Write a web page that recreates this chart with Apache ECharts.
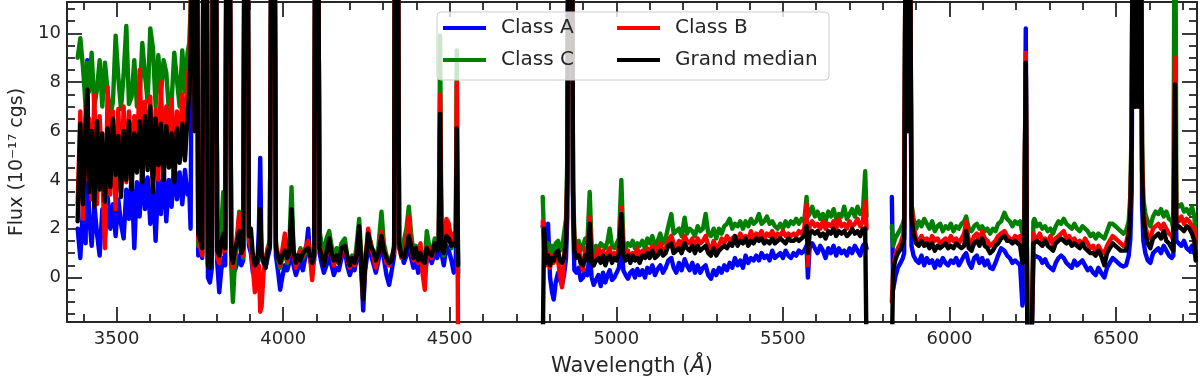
<!DOCTYPE html>
<html>
<head>
<meta charset="utf-8">
<title>Spectra</title>
<script src="https://cdn.jsdelivr.net/npm/echarts@6.0.0/dist/echarts.min.js"></script>
<style>
  html, body { margin: 0; padding: 0; background: #ffffff; }
  #chart { width: 1200px; height: 382px; }
</style>
</head>
<body>
<div id="chart"></div>
<script>
// tick positions
const xMajorTicks = [3500, 4000, 4500, 5000, 5500, 6000, 6500];
const xMinorTicks = [3400, 3600, 3700, 3800, 3900, 4100, 4200, 4300, 4400, 4600, 4700, 4800, 4900,
  5100, 5200, 5300, 5400, 5600, 5700, 5800, 5900, 6100, 6200, 6300, 6400, 6600, 6700];
const yMajorTicks = [0, 2, 4, 6, 8, 10];
const yMinorTicks = [-1.5, -1, -0.5, 0.5, 1, 1.5, 2.5, 3, 3.5, 4.5, 5, 5.5, 6.5, 7, 7.5,
  8.5, 9, 9.5, 10.5, 11];

const seriesNames = ['Class A', 'Class C', 'Class B', 'Grand median'];
const seriesColors = ['#0000ff', '#008000', '#ff0000', '#000000'];

// ---- blue end, 3383-3713 A ----
const wave1 = [3383, 3391, 3399, 3407, 3412, 3417, 3425, 3433, 3441, 3449,
  3457, 3465, 3473, 3481, 3489, 3497, 3505, 3513, 3521, 3529,
  3537, 3545, 3553, 3561, 3569, 3577, 3585, 3593, 3601, 3609,
  3617, 3625, 3633, 3641, 3649, 3657, 3665, 3673, 3681, 3689,
  3697, 3705, 3713];
const classA1 = [2.0, 0.8, 2.9, 1.4, 8.9, 2.6, 1.3, 3.0, 1.8, 0.9,
  2.8, 1.6, 3.3, 2.0, 3.0, 1.7, 3.2, 2.2, 1.6, 3.6,
  2.4, 4.2, 1.2, 3.9, 2.5, 4.5, 2.8, 4.1, 2.2, 3.8,
  1.5, 4.0, 2.6, 4.6, 2.3, 4.0, 2.9, 4.8, 3.2, 4.3,
  3.0, 4.4, 3.4];
const classB1 = [3.0, 6.8, 2.4, 7.0, 4.0, 6.5, 3.2, 7.5, 3.0, 6.6,
  4.2, 1.2, 7.8, 3.4, 6.8, 2.8, 6.9, 3.5, 7.0, 3.9,
  6.8, 4.5, 6.6, 4.4, 8.5, 5.0, 7.2, 4.6, 7.4, 3.8,
  6.9, 4.0, 8.0, 4.3, 7.0, 4.6, 7.3, 4.4, 6.8, 4.9,
  7.5, 5.0, 8.3];
const classC1 = [9.0, 9.8, 8.6, 7.0, 8.8, 7.6, 9.2, 7.0, 7.7, 8.9,
  7.0, 8.8, 7.6, 6.6, 7.2, 9.9, 8.2, 6.9, 8.3, 10.3,
  7.1, 7.4, 8.9, 7.0, 7.3, 9.6, 8.3, 7.2, 10.2, 9.4,
  7.0, 9.1, 7.5, 8.9, 8.4, 6.8, 7.2, 9.2, 8.1, 7.0,
  9.3, 7.6, 9.2];
const median1 = [2.3, 6.3, 3.0, 6.2, 7.7, 3.5, 6.0, 2.9, 6.4, 3.6,
  5.9, 3.1, 6.1, 3.7, 6.5, 4.2, 5.8, 3.3, 6.0, 4.0,
  6.4, 3.6, 5.9, 4.3, 6.4, 3.9, 6.6, 4.4, 7.0, 3.5,
  6.5, 4.6, 6.3, 4.0, 6.2, 4.5, 5.9, 3.9, 6.1, 4.7,
  6.3, 4.8, 6.6];

// ---- 3718-4525 A, Balmer series ----
const wave2 = [3718, 3722, 3729, 3734, 3740, 3745, 3752, 3757, 3762, 3769, 3774,
  3780, 3786, 3790, 3797, 3802, 3808, 3814, 3820, 3826, 3831,
  3838, 3844, 3849, 3855, 3862, 3868, 3874, 3880, 3885, 3892,
  3897, 3903, 3909, 3915, 3921, 3927, 3931, 3935, 3941, 3947,
  3953, 3960, 3966, 3973, 3978, 3985, 3991, 3997, 4005, 4012,
  4018, 4025, 4031, 4038, 4045, 4052, 4059, 4066, 4075, 4081,
  4087, 4093, 4097, 4104, 4109, 4115, 4122, 4130, 4138, 4145,
  4152, 4160, 4167, 4175, 4185, 4192, 4200, 4207, 4214, 4221,
  4228, 4234, 4240, 4246, 4255, 4262, 4270, 4278, 4286, 4295,
  4302, 4310, 4318, 4326, 4333, 4336, 4343, 4348, 4355, 4362,
  4370, 4377, 4384, 4391, 4398, 4405, 4412, 4418, 4425, 4431,
  4438, 4446, 4455, 4462, 4467, 4471, 4475, 4482, 4490, 4497,
  4505, 4512, 4518, 4521, 4525];
const classA2 = [3.6, 2.0, 20, 6, 20, 0.9, 1.9, 0.8, 20, 20, 0.0,
  -0.2, 0.4, 20, 20, 0.6, -0.6, 0.3, 0.8, 0.5, 20,
  20, 0.6, 0.2, 0.3, 0.6, 0.9, 0.5, 0.7, 20, 20,
  1.3, 1.0, 0.2, 0.3, 0.1, 2.0, 4.9, 0.8, 0.6, 0.4,
  0.8, 1.2, 20, 20, 0.9, 0.2, -0.5, 0.0, 0.5, 0.3,
  0.6, 1.1, 0.5, 0.1, 0.4, 0.6, 0.3, 0.8, 2.0, 0.7,
  0.4, 0.7, 20, 20, 1.0, 0.6, 0.2, 0.5, 0.9, 0.5,
  0.1, 0.4, 0.3, 0.8, 1.2, 0.5, 0.1, 0.4, 0.3, 0.8,
  1.2, 0.4, -1.35, 0.3, 1.2, 1.0, 0.6, 0.2, 0.7, 1.5,
  0.8, 0.1, -0.3, 0.3, 0.9, 20, 20, 1.2, 1.1, 0.6,
  0.9, 1.3, 0.8, 0.4, 0.8, 0.2, 0.6, 0.3, 0.2, 0.7,
  0.9, 0.6, 1.0, 0.8, 1.0, 6.0, 1.0, 0.5, 1.3, 1.1,
  0.7, 0.2, 0.6, 5.2, 0.2];
const classB2 = [8.6, 10.0, 20, 6, 20, 1.6, 1.2, 0.9, 20, 20, 0.6,
  0.7, 1.0, 20, 20, 0.8, 0.6, 1.2, 1.6, 1.1, 20,
  20, 0.8, 0.4, 1.0, 1.8, 2.6, 1.2, 0.9, 20, 20,
  1.6, 1.2, 0.4, -0.6, 0.0, 0.5, -1.4, -1.2, 0.2, 0.7,
  1.2, 1.4, 20, 20, 1.3, 0.9, 0.5, 1.1, 1.8, 0.7,
  1.0, 2.2, 1.0, 0.4, 0.8, 1.1, 0.9, 1.2, 1.5, 0.8,
  -0.1, 0.9, 20, 20, 1.3, 1.0, 0.6, 0.9, 1.4, 1.1,
  0.5, 0.8, 0.6, 1.0, 1.3, 0.8, 0.4, 0.7, 0.5, 1.1,
  1.6, 0.5, -0.9, 0.6, 2.0, 1.4, 0.9, 0.4, 1.0, 1.9,
  1.2, 0.6, 0.5, 0.9, 1.0, 20, 20, 1.3, 0.8, 0.9,
  1.6, 2.5, 1.2, 0.7, 1.1, 0.6, 1.4, 0.2, -0.5, 1.0,
  1.2, 0.8, 1.4, 1.2, 1.4, 7.5, 1.3, 1.5, 2.4, 2.2,
  1.5, 1.8, 1.6, 8.0, -3.0];
const classC2 = [9.6, 11.0, 20, 6, 20, 1.3, 1.5, 1.0, 20, 20, 0.8,
  0.9, 1.2, 20, 20, 1.0, 1.5, 2.0, 3.5, 1.6, 20,
  20, 0.5, -1.0, 0.6, 1.4, 2.7, 1.3, 0.8, 20, 20,
  1.5, 1.4, 0.5, 0.8, 0.2, 1.0, 2.2, 0.8, 0.9, 0.6,
  1.1, 1.6, 20, 20, 1.5, 0.7, 0.4, 0.8, 1.0, 0.6,
  1.2, 3.7, 1.1, 0.6, 0.9, 1.2, 0.8, 1.0, 1.3, 0.9,
  0.7, 1.0, 20, 20, 1.9, 1.4, 1.0, 1.6, 1.9, 1.3,
  0.8, 1.2, 0.9, 1.4, 1.6, 0.9, 0.5, 0.9, 0.6, 1.4,
  2.4, 1.0, -0.6, 0.8, 1.6, 1.5, 1.0, 0.7, 1.3, 2.7,
  1.4, 0.9, 0.7, 0.8, 1.2, 20, 20, 1.2, 0.9, 1.5,
  2.0, 2.9, 1.8, 1.0, 1.3, 0.8, 1.2, 0.9, 0.6, 1.9,
  1.3, 1.0, 1.6, 1.3, 1.6, 9.9, 1.4, 0.9, 1.8, 2.0,
  1.2, 1.5, 1.4, 9.3, 0.0];
const median2 = [7.6, 9.0, 20, 6, 20, 1.8, 1.5, 1.2, 20, 20, 0.5,
  0.4, 0.9, 20, 20, 1.1, 0.9, 1.4, 1.8, 1.2, 20,
  20, 1.0, 0.6, 1.1, 1.5, 1.9, 1.0, 1.2, 20, 20,
  1.7, 2.0, 0.9, 0.5, 0.6, 1.3, 2.8, 0.9, 0.7, 0.4,
  1.0, 1.3, 20, 20, 1.2, 0.8, 0.6, 0.9, 1.1, 0.8,
  1.0, 2.8, 1.1, 0.6, 0.9, 0.7, 1.0, 1.1, 1.2, 0.9,
  0.6, 0.9, 20, 20, 1.2, 0.9, 0.5, 1.0, 1.6, 1.0,
  0.7, 0.9, 0.6, 1.2, 1.3, 0.9, 0.5, 0.8, 0.6, 1.0,
  2.1, 0.6, -0.9, 0.5, 1.8, 1.3, 1.1, 0.7, 1.0, 1.7,
  1.1, 0.8, 0.6, 0.7, 1.3, 20, 20, 1.4, 0.9, 0.8,
  1.2, 1.7, 1.3, 0.8, 1.2, 0.7, 1.0, 0.7, 0.6, 1.2,
  1.0, 0.9, 1.4, 1.1, 1.3, 6.7, 1.2, 1.0, 1.7, 1.6,
  1.3, 1.4, 1.3, 6.1, 0.5];

// ---- 4779-5751 A ----
const wave3 = [4779, 4783, 4789, 4795, 4801, 4807, 4812, 4818, 4825, 4831,
  4837, 4843, 4849, 4853, 4857, 4866, 4870, 4874, 4880, 4887,
  4893, 4900, 4907, 4913, 4920, 4926, 4932, 4939, 4946, 4953,
  4960, 4967, 4974, 4980, 4987, 4994, 5001, 5008, 5015, 5021,
  5028, 5035, 5042, 5049, 5056, 5063, 5070, 5078, 5086, 5093,
  5100, 5108, 5116, 5124, 5132, 5140, 5148, 5156, 5165, 5172,
  5180, 5188, 5196, 5205, 5212, 5220, 5228, 5236, 5244, 5252,
  5260, 5268, 5276, 5284, 5292, 5300, 5308, 5316, 5324, 5332,
  5340, 5348, 5356, 5364, 5372, 5380, 5388, 5396, 5404, 5412,
  5420, 5428, 5436, 5444, 5452, 5460, 5468, 5476, 5484, 5492,
  5500, 5508, 5516, 5524, 5532, 5540, 5548, 5556, 5564, 5571,
  5575, 5580, 5588, 5596, 5604, 5612, 5620, 5628, 5636, 5644,
  5652, 5660, 5668, 5676, 5684, 5692, 5700, 5708, 5716, 5724,
  5732, 5740, 5747, 5751];
const classA3 = [2.1, 2.2, 1.5, 2.2, 0.0, -0.6, -0.9, -0.2, 0.2, -0.1,
  -0.3, 0.1, 0.8, 2.5, 20, 20, 2.5, 0.3, 0.2, 0.4,
  -0.1, 0.0, 0.3, 0.1, 1.0, 0.0, -0.3, -0.1, 0.1, -0.35,
  0.2, -0.2, 0.1, 0.3, -0.1, 0.0, 0.2, 0.4, 1.5, 0.3,
  0.1, -0.05, 0.2, 0.3, 0.0, 0.35, 0.1, 0.3, 0.0, 0.4,
  0.2, 0.5, 0.1, 0.35, 0.5, 0.2, 0.4, 0.7, 0.8, 0.4,
  0.2, 0.6, 0.3, 0.75, 0.5, 0.3, 0.6, 0.2, 0.5, 0.2,
  0.4, 0.5, 0.1, -0.05, 0.3, 0.1, 0.4, 0.2, 0.5, 0.3,
  0.6, 0.4, 0.8, 0.5, 0.7, 0.4, 0.9, 0.6, 0.8, 0.7,
  0.9, 0.7, 1.0, 0.8, 0.9, 0.7, 1.1, 0.8, 0.9, 1.0,
  0.8, 1.1, 0.9, 0.8, 1.0, 0.9, 1.1, 1.0, 1.1, 1.3,
  0.0, 1.2, 1.4, 1.2, 1.0, 1.3, 1.1, 0.8, 1.2, 1.0,
  1.3, 0.9, 1.2, 1.0, 1.1, 0.9, 1.2, 1.0, 1.3, 1.1,
  0.9, 1.3, 1.4, 1.2];
const classB3 = [2.3, 1.2, 0.5, 1.0, 0.4, 0.9, 0.6, 1.0, 0.7, 0.1,
  -0.4, 0.8, 1.6, 4.5, 20, 20, 3.5, 1.4, 0.9, 1.3,
  0.6, 0.3, 1.2, 0.8, 2.45, 0.9, 0.5, 0.9, 1.2, 0.8,
  1.1, 0.6, 1.0, 1.2, 0.7, 1.0, 0.8, 1.3, 2.85, 1.0,
  0.8, 1.1, 0.7, 1.0, 0.9, 1.2, 0.8, 1.1, 0.9, 1.2,
  1.0, 1.3, 0.9, 1.2, 1.4, 1.0, 1.2, 1.5, 1.7, 1.4,
  1.2, 1.5, 1.3, 1.7, 1.5, 1.4, 1.6, 1.2, 1.6, 1.4,
  1.5, 1.7, 1.3, 1.1, 1.5, 1.2, 1.3, 1.6, 1.4, 1.7,
  1.5, 1.6, 1.7, 1.5, 1.8, 1.6, 1.7, 1.5, 1.9, 1.6,
  1.8, 1.7, 1.9, 1.6, 1.8, 1.7, 1.9, 1.6, 1.8, 1.7,
  1.9, 1.7, 1.8, 1.7, 1.8, 1.7, 1.9, 1.8, 2.0, 3.0,
  0.5, 2.1, 2.3, 2.1, 2.2, 2.0, 2.3, 2.0, 2.2, 2.1,
  2.3, 2.0, 2.4, 2.1, 2.2, 2.0, 2.3, 2.1, 2.2, 2.4,
  2.1, 2.3, 3.1, 2.0];
const classC3 = [3.3, 1.6, 1.2, 1.4, 1.0, 1.3, 1.0, 1.4, 1.5, 1.1,
  1.2, 1.8, 2.4, 5.0, 20, 20, 4.0, 1.7, 1.2, 1.5,
  1.1, 1.3, 1.6, 1.4, 3.5, 1.2, 1.0, 1.3, 1.1, 1.4,
  1.3, 1.2, 1.5, 2.0, 1.3, 1.2, 1.4, 1.6, 4.0, 1.5,
  1.2, 1.4, 1.3, 1.5, 1.2, 1.4, 1.3, 1.5, 1.2, 1.6,
  1.4, 1.7, 1.3, 1.5, 1.8, 1.4, 1.6, 2.1, 2.6, 1.8,
  1.9, 2.0, 1.7, 2.45, 1.8, 2.0, 1.9, 1.7, 2.1, 1.9,
  2.0, 2.6, 1.8, 1.7, 2.0, 1.6, 2.0, 1.8, 2.1, 2.2,
  2.4, 2.0, 2.2, 2.1, 2.3, 2.0, 2.3, 2.1, 2.4, 2.2,
  2.3, 2.6, 2.2, 2.3, 2.5, 2.2, 2.3, 2.1, 2.0, 2.2,
  2.0, 2.3, 2.1, 2.3, 2.2, 2.4, 2.2, 2.4, 2.3, 3.3,
  2.5, 2.6, 2.9, 2.5, 2.7, 2.4, 2.6, 2.3, 2.7, 2.5,
  2.8, 2.4, 2.6, 2.5, 2.9, 2.4, 2.6, 2.8, 2.5, 2.9,
  2.6, 2.7, 4.35, 2.5];
const median3 = [-3.0, 2.0, 0.6, 0.9, 0.5, 0.8, 0.7, 1.0, 1.1, 0.7,
  0.6, 0.8, 1.5, 4.0, 20, 20, 3.5, 1.1, 0.8, 0.9,
  0.6, 0.5, 0.9, 0.7, 2.2, 0.6, 0.5, 0.7, 0.8, 0.6,
  0.9, 0.5, 0.8, 0.9, 0.6, 0.8, 0.7, 1.0, 2.6, 0.9,
  0.7, 0.9, 0.6, 0.9, 0.7, 0.8, 0.6, 0.9, 0.8, 1.0,
  0.8, 1.1, 0.8, 0.9, 1.1, 0.9, 1.0, 1.3, 1.4, 1.0,
  1.1, 1.2, 1.0, 1.4, 1.2, 1.1, 1.3, 1.0, 1.3, 1.1,
  1.2, 1.3, 1.0, 0.9, 1.2, 0.9, 1.1, 1.2, 1.3, 1.2,
  1.4, 1.3, 1.7, 1.3, 1.5, 1.4, 1.6, 1.3, 1.5, 1.4,
  1.6, 1.5, 1.6, 1.4, 1.5, 1.4, 1.6, 1.4, 1.5, 1.6,
  1.5, 1.4, 1.6, 1.5, 1.5, 1.6, 1.5, 1.6, 1.7, 2.1,
  1.0, 1.8, 1.9, 1.8, 1.9, 1.7, 1.8, 1.6, 1.9, 1.8,
  2.0, 1.7, 1.9, 1.8, 1.9, 1.7, 1.8, 2.0, 1.8, 1.9,
  1.7, 2.0, 2.0, -3.0];

// ---- 5827-6739 A, H alpha ----
const wave4 = [5827, 5831, 5837, 5845, 5853, 5860, 5864, 5870, 5875, 5880, 5886,
  5892, 5900, 5908, 5916, 5924, 5932, 5940, 5948, 5956, 5964,
  5972, 5980, 5988, 5996, 6004, 6012, 6020, 6028, 6036, 6044,
  6050, 6058, 6066, 6074, 6082, 6090, 6098, 6106, 6114, 6122,
  6130, 6138, 6146, 6155, 6165, 6173, 6181, 6189, 6197, 6205,
  6212, 6219, 6224, 6229, 6234, 6246, 6252, 6255, 6263, 6271,
  6279, 6287, 6295, 6303, 6311, 6319, 6327, 6335, 6343, 6351,
  6359, 6367, 6375, 6383, 6391, 6399, 6407, 6415, 6423, 6431,
  6439, 6447, 6455, 6465, 6473, 6481, 6490, 6498, 6506, 6514,
  6522, 6530, 6538, 6543, 6547, 6551, 6558, 6563, 6568, 6574, 6578, 6582, 6588,
  6595, 6603, 6611, 6619, 6627, 6635, 6643, 6651, 6659, 6667,
  6672, 6677, 6681, 6688, 6696, 6704, 6712, 6720, 6728, 6735,
  6739];
const classA4 = [3.3, -0.5, 0.0, 0.4, 0.6, 0.8, 1.0, 20, 6, 20, 1.3,
  0.9, 0.7, 0.6, 0.9, 0.5, 0.8, 0.6, 0.7, 0.4, 0.7,
  0.5, 0.8, 0.6, 0.5, 0.7, 0.6, 0.8, 0.5, 0.7, 0.9,
  1.0, 0.6, 0.4, 0.8, 0.9, 0.6, 0.8, 0.5, 0.7, 0.4,
  0.35, 0.6, 0.9, 1.2, 1.1, 0.9, 0.8, 0.6, 0.7, 0.6,
  0.5, -1.15, -0.5, 10.2, -3, -3, 0.8, 0.9, 0.85, 0.8,
  0.6, 0.75, 0.5, 0.4, 0.3, 0.6, 0.8, 0.9, 0.8, 0.6,
  0.5, 0.4, 0.7, 0.5, 0.6, 0.7, 0.5, 0.3, 0.4, 0.2,
  0.1, 0.4, 0.2, 0.0, 0.4, 0.6, 0.8, 0.7, 0.6, 0.5,
  0.45, 0.5, 0.9, 1.6, 3.5, 20, 7, 20, 7, 20, 3.0, 1.5, 1.0,
  0.7, 0.6, 1.0, 1.1, 1.2, 1.0, 1.3, 1.1, 0.9, 0.8,
  0.9, 5.0, 1.5, 1.4, 1.3, 1.5, 1.2, 1.1, 1.3, 1.0,
  0.9];
const classB4 = [-1.0, 0.3, 0.9, 1.2, 1.4, 1.7, 2.0, 20, 6, 20, 3.05,
  2.1, 1.6, 1.5, 1.7, 1.5, 1.6, 1.4, 1.7, 1.5, 1.6,
  1.4, 1.5, 1.6, 1.4, 1.7, 1.5, 1.6, 1.4, 1.6, 1.8,
  2.3, 1.5, 1.4, 1.7, 1.8, 1.5, 1.9, 1.6, 1.5, 1.3,
  1.4, 1.5, 1.7, 1.8, 1.9, 1.7, 1.6, 1.5, 1.7, 1.6,
  1.7, 0.9, 0.8, 9.2, -3, -3, 1.8, 1.7, 1.6, 1.8,
  1.5, 1.6, 1.4, 1.7, 1.3, 1.6, 1.7, 1.8, 1.9, 1.6,
  1.7, 1.5, 1.6, 1.4, 1.5, 1.3, 1.6, 1.4, 1.2, 1.3,
  1.0, 1.3, 1.1, 1.0, 1.3, 1.5, 1.7, 1.6, 1.5, 1.4,
  1.3, 1.4, 1.9, 3.0, 6.0, 20, 7, 20, 7, 20, 5.0, 2.8, 2.1,
  1.7, 1.6, 2.0, 2.1, 2.2, 2.0, 2.2, 2.0, 1.8, 1.7,
  1.5, 9.0, 2.4, 2.3, 2.5, 2.2, 2.4, 2.3, 2.1, 2.0,
  1.2];
const classC4 = [2.1, 1.3, 1.6, 1.8, 2.0, 2.2, 2.4, 20, 6, 20, 3.0,
  2.4, 2.0, 2.3, 2.1, 2.4, 2.2, 2.0, 2.3, 1.9, 2.1,
  2.2, 1.9, 2.1, 2.0, 2.2, 1.9, 2.1, 2.0, 2.2, 2.3,
  2.5, 2.0, 1.9, 2.1, 2.2, 2.0, 2.1, 1.9, 2.0, 1.8,
  2.0, 1.9, 2.2, 2.3, 2.65, 2.4, 2.3, 2.1, 2.3, 2.2,
  2.3, 1.8, 1.5, 8.8, -3, -3, 2.3, 2.4, 2.1, 2.2,
  2.0, 2.1, 1.9, 2.0, 1.8, 2.1, 2.3, 2.2, 2.4, 2.2,
  2.1, 2.0, 2.2, 2.0, 1.9, 2.1, 2.0, 1.9, 1.7, 1.8,
  1.6, 1.8, 1.7, 1.6, 1.9, 2.2, 2.2, 2.1, 2.0, 1.9,
  1.8, 1.9, 2.3, 3.4, 6.5, 20, 7, 20, 7, 20, 5.5, 3.2, 2.6,
  2.3, 2.1, 2.5, 2.7, 2.6, 2.8, 2.5, 2.7, 2.4, 2.3,
  2.0, 20, 3.0, 2.9, 3.0, 2.7, 2.8, 2.6, 2.9, 2.5,
  1.6];
const median4 = [-3.0, 0.3, 0.7, 1.0, 1.15, 1.4, 1.6, 20, 6, 20, 2.5,
  1.8, 1.4, 1.3, 1.5, 1.3, 1.4, 1.2, 1.4, 1.1, 1.3,
  1.2, 1.3, 1.4, 1.2, 1.3, 1.2, 1.4, 1.3, 1.2, 1.3,
  1.9, 1.2, 1.1, 1.4, 1.5, 1.3, 1.6, 1.3, 1.2, 1.0,
  1.1, 1.3, 1.4, 1.6, 1.7, 1.5, 1.5, 1.4, 1.5, 1.4,
  1.3, 0.6, 0.7, 8.8, -3, -3, 1.4, 1.4, 1.5, 1.4,
  1.3, 1.5, 1.3, 1.2, 1.1, 1.4, 1.5, 1.6, 1.5, 1.4,
  1.5, 1.3, 1.4, 1.3, 1.2, 1.4, 1.2, 1.1, 1.0, 1.0,
  0.9, 1.1, 0.9, 0.5, 1.0, 1.2, 1.4, 1.3, 1.2, 1.1,
  1.1, 1.1, 1.7, 2.7, 5.5, 20, 7, 20, 7, 20, 4.5, 2.5, 1.8,
  1.4, 1.2, 1.6, 1.7, 1.8, 1.6, 1.9, 1.5, 1.4, 1.2,
  1.1, 7.9, 2.0, 2.1, 2.0, 1.9, 2.1, 2.0, 1.8, 1.5,
  0.7];

// chip gaps between the spectrograph segments
const gapWave = [4650, 5790];

// join the four segments, a null point breaks the line at each gap
const build = (s1, s2, s3, s4) => {
  const w = [].concat(wave1, wave2, [gapWave[0]], wave3, [gapWave[1]], wave4);
  const v = [].concat(s1, s2, [null], s3, [null], s4);
  return w.map((x, i) => [x, v[i] === null ? '-' : v[i]]);
};

const textColor = '#262626';
const font = 'DejaVu Sans';

const lineSeries = (name, color, data) => ({
  name: name,
  type: 'line',
  data: data,
  symbol: 'none',
  showSymbol: false,
  animation: false,
  clip: true,
  lineStyle: {width: 4.4, color: color, join: 'round', cap: 'round'},
  itemStyle: {color: color},
  emphasis: {disabled: true}
});

const legendItem = (name, left, top) => ({
  data: [name],
  left: left,
  top: top,
  padding: 0,
  icon: 'rect',
  itemWidth: 43,
  itemHeight: 4,
  selectedMode: false,
  z: 60,
  formatter: (n) => '\u2002' + n,
  textStyle: {fontFamily: font, fontSize: 20, color: textColor, lineHeight: 20}
});

// decoration-only axes: ticks on all four sides
const tickAxis = (pos, min, max, values, len, withLine) => ({
  type: 'value',
  position: pos,
  min: min,
  max: max,
  axisLine: {show: withLine, onZero: false, lineStyle: {color: textColor, width: 2}},
  axisTick: {show: true, inside: true, length: len, customValues: values,
    lineStyle: {color: textColor, width: 1.8}},
  axisLabel: {show: false},
  splitLine: {show: false}
});

const xMin = 3351, xMax = 6743, yMin = -1.82, yMax = 11.28;

const chart = echarts.init(document.getElementById('chart'), null, {renderer: 'canvas'});
chart.setOption({
  animation: false,
  backgroundColor: '#ffffff',
  grid: {left: 67, right: 3, top: 2, bottom: 59, containLabel: false},
  xAxis: [
    {
      type: 'value',
      position: 'bottom',
      min: xMin,
      max: xMax,
      name: 'Wavelength ({it|Å})',
      nameLocation: 'middle',
      nameGap: 34,
      nameTextStyle: {fontFamily: font, fontSize: 21, color: textColor,
        rich: {it: {fontFamily: font, fontSize: 21, fontStyle: 'italic', color: textColor}}},
      axisLine: {show: true, onZero: false, lineStyle: {color: textColor, width: 2}},
      axisTick: {show: true, inside: true, length: 15, customValues: xMajorTicks,
        lineStyle: {color: textColor, width: 1.8}},
      axisLabel: {customValues: xMajorTicks, formatter: (v) => String(v),
        fontFamily: font, fontSize: 18, color: textColor, margin: 8},
      splitLine: {show: false}
    },
    tickAxis('bottom', xMin, xMax, xMinorTicks, 8, false),
    tickAxis('top', xMin, xMax, xMajorTicks, 15, true),
    tickAxis('top', xMin, xMax, xMinorTicks, 8, false)
  ],
  yAxis: [
    {
      type: 'value',
      position: 'left',
      min: yMin,
      max: yMax,
      name: 'Flux (10\u207B\u00B9\u2077 cgs)',
      nameLocation: 'middle',
      nameRotate: 90,
      nameGap: 40,
      nameTextStyle: {fontFamily: font, fontSize: 19, color: textColor},
      axisLine: {show: true, onZero: false, lineStyle: {color: textColor, width: 2}},
      axisTick: {show: true, inside: true, length: 15, customValues: yMajorTicks,
        lineStyle: {color: textColor, width: 1.8}},
      axisLabel: {customValues: yMajorTicks, formatter: (v) => String(v),
        fontFamily: font, fontSize: 18, color: textColor, margin: 6},
      splitLine: {show: false}
    },
    tickAxis('left', yMin, yMax, yMinorTicks, 8, false),
    tickAxis('right', yMin, yMax, yMajorTicks, 15, true),
    tickAxis('right', yMin, yMax, yMinorTicks, 8, false)
  ],
  legend: [
    legendItem('Class A', 443, 18),
    legendItem('Class B', 617, 18),
    legendItem('Class C', 443, 50),
    legendItem('Grand median', 617, 50)
  ],
  graphic: [
    {
      type: 'rect',
      z: 50,
      shape: {x: 437, y: 12, width: 392, height: 68, r: 4},
      style: {fill: 'rgba(255,255,255,0.8)', stroke: '#cccccc', lineWidth: 1}
    }
  ],
  series: [
    lineSeries(seriesNames[0], seriesColors[0], build(classA1, classA2, classA3, classA4)),
    lineSeries(seriesNames[1], seriesColors[1], build(classC1, classC2, classC3, classC4)),
    lineSeries(seriesNames[2], seriesColors[2], build(classB1, classB2, classB3, classB4)),
    lineSeries(seriesNames[3], seriesColors[3], build(median1, median2, median3, median4))
  ]
});
</script>
</body>
</html>
